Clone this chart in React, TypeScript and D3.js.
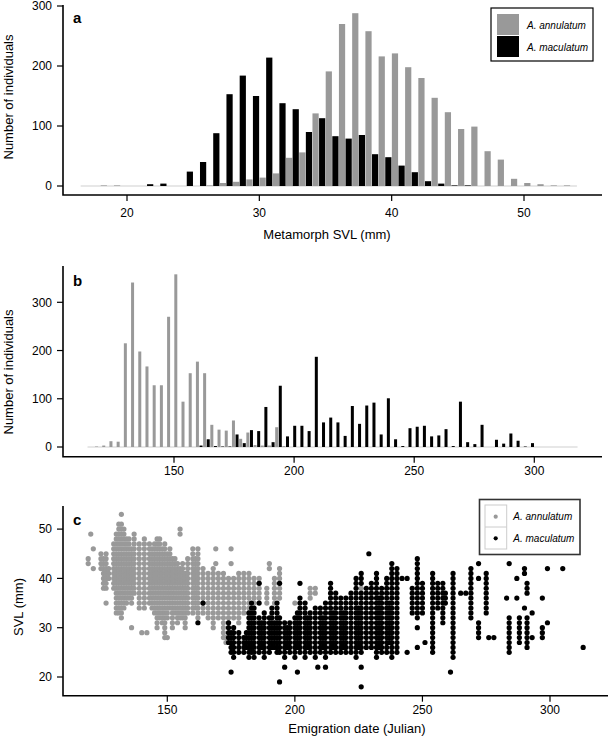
import React from "react";
import * as d3 from "d3";

// ---------- Panel a: metamorph SVL histogram ----------
const svlBins = [17, 18, 19, 20, 21, 22, 23, 24, 25, 26, 27, 28, 29, 30, 31, 32, 33, 34, 35, 36, 37, 38, 39, 40, 41, 42, 43, 44, 45, 46, 47, 48, 49, 50, 51, 52, 53, 54];
const annulatumSVL = [0, 1, 1, 0, 0, 0, 0, 0, 0, 1, 5, 7, 11, 14, 21, 47, 56, 121, 191, 270, 288, 258, 216, 221, 198, 180, 147, 123, 95, 99, 58, 44, 12, 5, 3, 1, 1, 0];
const maculatumSVL = [0, 0, 0, 0, 0, 3, 4, 0, 24, 40, 88, 153, 184, 150, 214, 138, 128, 90, 113, 83, 79, 85, 53, 48, 34, 23, 8, 4, 1, 1, 0, 0, 0, 0, 0, 0, 0, 0];
const ticksA_x = [20, 30, 40, 50];
const ticksA_y = [0, 100, 200, 300];

// ---------- Panel b: emigration date histogram (3-day bins) ----------
const dateBins = [114, 117, 120, 123, 126, 129, 132, 135, 138, 141, 144, 147, 150, 153, 156, 159, 162, 165, 168, 171, 174, 177, 180, 183, 186, 189, 192, 195, 198, 201, 204, 207, 210, 213, 216, 219, 222, 225, 228, 231, 234, 237, 240, 243, 246, 249, 252, 255, 258, 261, 264, 267, 270, 273, 276, 279, 282, 285, 288, 291, 294, 297, 300, 303, 306, 309, 312, 315];
const annulatumDate = [0, 1, 3, 12, 11, 215, 341, 198, 167, 128, 128, 270, 358, 94, 153, 177, 153, 46, 36, 34, 55, 17, 30, 4, 3, 3, 41, 2, 0, 0, 0, 0, 0, 0, 0, 0, 0, 0, 0, 0, 0, 0, 0, 0, 0, 0, 0, 0, 0, 0, 0, 0, 0, 0, 0, 0, 0, 0, 0, 0, 0, 0, 0, 0, 0, 0, 0, 0];
const maculatumDate = [0, 0, 0, 0, 0, 0, 0, 0, 0, 0, 0, 0, 0, 0, 0, 3, 16, 2, 1, 1, 26, 8, 35, 33, 83, 10, 127, 22, 44, 44, 33, 187, 51, 61, 51, 23, 85, 48, 86, 92, 26, 101, 16, 2, 39, 42, 44, 22, 24, 37, 2, 94, 10, 6, 46, 0, 15, 7, 28, 13, 1, 8, 0, 0, 0, 0, 0, 0];
const ticksB_x = [150, 200, 250, 300];
const ticksB_y = [0, 100, 200, 300];

// ---------- Panel c: SVL vs emigration date (columns of points: [day, lowest SVL, highest SVL]) ----------
const annulatumRuns: [number, number, number][] = [
  [119, 43, 44], [120, 49, 49], [121, 46, 46], [121, 42, 42],
  [124, 42, 45], [125, 38, 44], [126, 38, 45], [126, 35, 35], [127, 40, 42],
  [129, 38, 47], [130, 33, 49], [131, 33, 51], [132, 32, 51], [132, 53, 53], [133, 34, 50], [134, 35, 48], [135, 36, 48], [136, 35, 46], [136, 30, 30], [137, 37, 49],
  [139, 34, 47], [140, 29, 29], [141, 34, 48], [142, 29, 29], [143, 35, 47],
  [144, 34, 46], [145, 33, 47], [146, 30, 48], [147, 32, 48], [148, 31, 46], [149, 28, 47], [150, 32, 45], [150, 28, 28], [151, 34, 46],
  [152, 30, 44], [153, 33, 44], [154, 31, 43], [155, 49, 50], [155, 32, 42], [156, 32, 43], [157, 30, 41], [158, 33, 44], [160, 33, 46], [161, 34, 44],
  [162, 32, 46], [164, 33, 42], [166, 32, 41], [168, 30, 42], [169, 46, 46], [169, 43, 43], [170, 32, 41], [172, 28, 41], [173, 27, 28], [174, 31, 40],
  [175, 46, 46], [175, 43, 43], [176, 32, 40], [178, 31, 41], [180, 33, 41], [182, 33, 41],
  [184, 35, 40], [185, 31, 31], [186, 36, 40], [189, 35, 38], [190, 42, 43], [192, 35, 40], [194, 36, 42], [200, 35, 35],
  [206, 36, 38], [208, 37, 38], [226, 38, 38],
];
const maculatumRuns: [number, number, number][] = [
  [162, 31, 31], [164, 35, 35],
  [174, 27, 31], [175, 21, 21], [175, 25, 29], [176, 24, 30], [178, 25, 29],
  [180, 25, 28], [181, 26, 29], [182, 24, 33], [183, 25, 35], [184, 24, 34],
  [186, 39, 39], [186, 35, 35], [186, 25, 32], [187, 26, 31], [188, 24, 33], [190, 25, 32], [191, 26, 34],
  [192, 26, 31], [193, 25, 35], [194, 39, 39], [194, 25, 32], [194, 19, 19], [196, 22, 22], [196, 24, 31], [197, 26, 30], [198, 25, 31],
  [200, 24, 32], [201, 21, 21], [201, 26, 33],
  [202, 39, 39], [202, 25, 36], [204, 24, 35], [205, 26, 32], [206, 25, 33], [208, 24, 34], [209, 22, 22], [210, 25, 34], [211, 26, 32],
  [212, 22, 22], [212, 24, 35], [214, 25, 39], [215, 26, 33], [216, 25, 37], [218, 25, 36], [219, 26, 33], [220, 25, 36], [222, 25, 37],
  [224, 24, 40], [225, 26, 34], [226, 25, 37], [226, 39, 41], [226, 22, 22], [226, 18, 18], [228, 26, 38], [229, 45, 45],
  [230, 26, 39], [232, 24, 41], [233, 26, 36], [234, 25, 38], [236, 25, 40], [237, 27, 35], [238, 24, 43], [240, 25, 42],
  [242, 40, 40], [244, 40, 40], [244, 25, 25], [246, 33, 38], [248, 32, 44], [248, 30, 30], [248, 26, 26], [250, 33, 39], [251, 27, 27],
  [254, 25, 41], [256, 34, 39], [258, 31, 39], [259, 35, 37], [261, 21, 21], [262, 24, 41], [265, 37, 37], [267, 37, 37],
  [269, 32, 42], [272, 43, 43], [272, 40, 40], [272, 28, 31], [275, 33, 41], [276, 28, 28], [278, 28, 28],
  [283, 36, 36], [284, 43, 43], [284, 25, 32], [287, 40, 40], [287, 36, 36], [288, 27, 32],
  [290, 41, 42], [291, 37, 39], [290, 34, 34], [291, 26, 32], [293, 33, 33], [293, 28, 28],
  [297, 36, 36], [297, 28, 30], [299, 42, 42], [299, 31, 31], [305, 42, 42], [313, 26, 26],
];
const ticksC_x = [150, 200, 250, 300];
const ticksC_y = [20, 30, 40, 50];

const speciesNames = ["A. annulatum", "A. maculatum"];
const GRAY = "#999999";
const BLACK = "#000000";
const FONT = "'Liberation Sans', Arial, Helvetica, sans-serif";

function expand(runs: [number, number, number][]) {
  const pts: { d: number; s: number }[] = [];
  runs.forEach(([d, lo, hi]) => {
    for (let s = lo; s <= hi; s++) pts.push({ d, s });
  });
  return pts;
}

type AxisProps = {
  x: d3.ScaleLinear<number, number>;
  y: d3.ScaleLinear<number, number>;
  xTicks: number[];
  yTicks: number[];
  x0: number; x1: number; y0: number; y1: number;
  xLabelY: number;
};

function Axes({ x, y, xTicks, yTicks, x0, x1, y0, y1, xLabelY }: AxisProps) {
  return (
    <g fontFamily={FONT} fontSize={12} fill="#000">
      <path d={`M${x0},${y0} L${x0},${y1} L${x1},${y1}`} fill="none" stroke="#000" strokeWidth={1.6} />
      {yTicks.map((t) => (
        <g key={"y" + t}>
          <line x1={x0 - 6} x2={x0} y1={y(t)} y2={y(t)} stroke="#000" strokeWidth={1.2} />
          <text x={x0 - 11} y={y(t)} dy="0.36em" textAnchor="end">{t}</text>
        </g>
      ))}
      {xTicks.map((t) => (
        <g key={"x" + t}>
          <line x1={x(t)} x2={x(t)} y1={y1} y2={y1 + 6} stroke="#000" strokeWidth={1.2} />
          <text x={x(t)} y={xLabelY} textAnchor="middle">{t}</text>
        </g>
      ))}
    </g>
  );
}

export default function App() {
  // Panel a
  const xA = d3.scaleLinear().domain([20, 50]).range([127, 524]);
  const yA = d3.scaleLinear().domain([0, 300]).range([186, 6]);
  const halfA = xA(0.5) - xA(0);

  // Panel b
  const xB = d3.scaleLinear().domain([150, 300]).range([174, 534.3]);
  const yB = d3.scaleLinear().domain([0, 300]).range([447, 302.3]);
  const halfB = xB(1.5) - xB(0);

  // Panel c
  const xC = d3.scaleLinear().domain([150, 300]).range([167.3, 550]);
  const yC = d3.scaleLinear().domain([20, 50]).range([677, 529.1]);
  const annPts = expand(annulatumRuns);
  const macPts = expand(maculatumRuns);

  return (
    <svg width={610} height={739} style={{ position: "absolute", left: 0, top: 0, background: "#fff" }}>
      {/* ---------------- Panel a ---------------- */}
      <line x1={xA(svlBins[0] - 0.5)} x2={xA(svlBins[svlBins.length - 1])} y1={yA(0)} y2={yA(0)} stroke="#cfcfcf" strokeWidth={1} />
      {svlBins.map((b, i) => (
        <g key={"a" + b}>
          {maculatumSVL[i] > 0 && (
            <rect x={xA(b - 0.5) + 0.2} width={halfA - 0.4} y={yA(maculatumSVL[i])} height={yA(0) - yA(maculatumSVL[i])} fill={BLACK} />
          )}
          {annulatumSVL[i] > 0 && (
            <rect x={xA(b) + 0.2} width={halfA - 0.4} y={yA(annulatumSVL[i])} height={yA(0) - yA(annulatumSVL[i])} fill={GRAY} />
          )}
        </g>
      ))}
      <Axes x={xA} y={yA} xTicks={ticksA_x} yTicks={ticksA_y} x0={63} x1={602} y0={5} y1={195} xLabelY={217} />
      <text x={73} y={23} fontFamily={FONT} fontSize={15} fontWeight="bold">a</text>
      <text x={327} y={239} fontFamily={FONT} fontSize={13} textAnchor="middle">Metamorph SVL (mm)</text>
      <text transform="translate(13,97) rotate(-90)" fontFamily={FONT} fontSize={13} textAnchor="middle">Number of individuals</text>
      {/* legend a */}
      <g fontFamily={FONT} fontSize={10} fontStyle="italic">
        <rect x={491} y={8} width={102} height={53} fill="#fff" stroke="#000" strokeWidth={1.2} />
        <rect x={497} y={14} width={22} height={21} fill={GRAY} />
        <rect x={497} y={36} width={22} height={21} fill={BLACK} />
        <text x={527} y={29}>{speciesNames[0]}</text>
        <text x={527} y={50.5}>{speciesNames[1]}</text>
      </g>

      {/* ---------------- Panel b ---------------- */}
      <line x1={xB(dateBins[0])} x2={xB(dateBins[dateBins.length - 1] + 3)} y1={yB(0)} y2={yB(0)} stroke="#cfcfcf" strokeWidth={1} />
      {dateBins.map((b, i) => (
        <g key={"b" + b}>
          {annulatumDate[i] > 0 && (
            <rect x={xB(b) + 0.3} width={halfB - 0.6} y={yB(annulatumDate[i])} height={yB(0) - yB(annulatumDate[i])} fill={GRAY} />
          )}
          {maculatumDate[i] > 0 && (
            <rect x={xB(b + 1.5) + 0.3} width={halfB - 0.6} y={yB(maculatumDate[i])} height={yB(0) - yB(maculatumDate[i])} fill={BLACK} />
          )}
        </g>
      ))}
      <Axes x={xB} y={yB} xTicks={ticksB_x} yTicks={ticksB_y} x0={63} x1={602} y0={266} y1={456.7} xLabelY={475} />
      <text x={73} y={286} fontFamily={FONT} fontSize={15} fontWeight="bold">b</text>
      <text transform="translate(13,372) rotate(-90)" fontFamily={FONT} fontSize={13} textAnchor="middle">Number of individuals</text>

      {/* ---------------- Panel c ---------------- */}
      {annPts.map((p, i) => (
        <circle key={"ga" + i} cx={xC(p.d)} cy={yC(p.s)} r={2.6} fill={GRAY} />
      ))}
      {macPts.map((p, i) => (
        <circle key={"gm" + i} cx={xC(p.d)} cy={yC(p.s)} r={2.6} fill={BLACK} />
      ))}
      <Axes x={xC} y={yC} xTicks={ticksC_x} yTicks={ticksC_y} x0={63} x1={608} y0={506} y1={695.7} xLabelY={713.5} />
      <text x={73} y={525} fontFamily={FONT} fontSize={15} fontWeight="bold">c</text>
      <text x={357} y={733} fontFamily={FONT} fontSize={13} textAnchor="middle">Emigration date (Julian)</text>
      <text transform="translate(23,607) rotate(-90)" fontFamily={FONT} fontSize={13} textAnchor="middle">SVL (mm)</text>
      {/* legend c */}
      <g fontFamily={FONT} fontSize={10} fontStyle="italic">
        <rect x={479.5} y={499.5} width={100.5} height={55} fill="#fff" stroke="#333" strokeWidth={1.6} />
        <rect x={485} y={505} width={21.7} height={44} fill="#fff" stroke="#ccc" strokeWidth={1} />
        <line x1={485} x2={506.7} y1={527} y2={527} stroke="#ccc" strokeWidth={1} />
        <circle cx={495.7} cy={516.7} r={2.1} fill={GRAY} />
        <circle cx={495.7} cy={538.3} r={2.1} fill={BLACK} />
        <text x={513.3} y={519.5}>{speciesNames[0]}</text>
        <text x={513.3} y={541.5}>{speciesNames[1]}</text>
      </g>
    </svg>
  );
}
